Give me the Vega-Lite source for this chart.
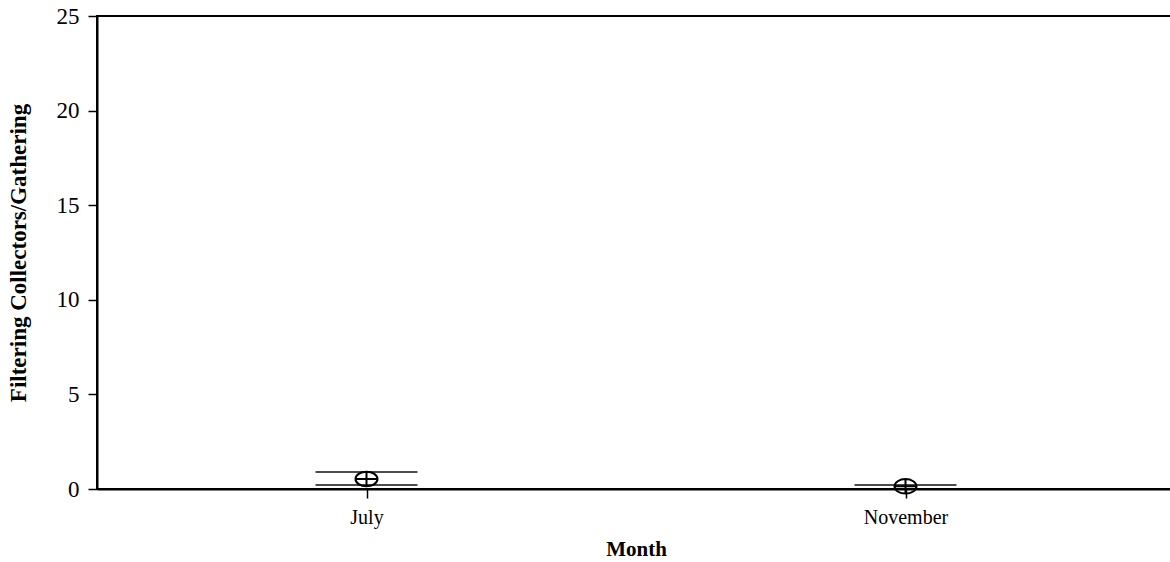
{
  "$schema": "https://vega.github.io/schema/vega-lite/v6.json",
  "autosize": "none",
  "padding": {"left": 97, "top": 16, "right": 0, "bottom": 73},
  "width": 1078,
  "height": 473,
  "background": "white",
  "config": {
    "view": {"stroke": "black", "strokeWidth": 2},
    "font": "Liberation Serif",
    "axis": {
      "grid": false,
      "domainColor": "black",
      "domainWidth": 2,
      "tickColor": "black",
      "tickWidth": 1.5,
      "tickSize": 9,
      "labelColor": "black",
      "titleColor": "black",
      "labelFont": "Liberation Serif",
      "titleFont": "Liberation Serif",
      "titleFontWeight": "bold"
    }
  },
  "data": {
    "values": [
      {"month": "July", "lower": 0.21, "upper": 0.9, "mean": 0.53},
      {"month": "November", "lower": 0.0, "upper": 0.21, "mean": 0.14}
    ]
  },
  "encoding": {
    "x": {
      "field": "month",
      "type": "nominal",
      "scale": {"type": "point", "padding": 0.5},
      "axis": {
        "title": "Month",
        "labelAngle": 0,
        "labelFontSize": 20,
        "labelPadding": 9,
        "titleFontSize": 21,
        "titlePadding": 11
      }
    }
  },
  "layer": [
    {
      "mark": {"type": "tick", "color": "black", "size": 102, "thickness": 2},
      "encoding": {
        "y": {
          "field": "upper",
          "type": "quantitative",
          "scale": {"domain": [0, 25], "nice": false, "zero": true},
          "axis": {
            "title": "Filtering Collectors/Gathering",
            "values": [0, 5, 10, 15, 20, 25],
            "labelFontSize": 23,
            "labelPadding": 9,
            "titleFontSize": 23,
            "titlePadding": 26
          }
        }
      }
    },
    {
      "mark": {"type": "tick", "color": "black", "size": 102, "thickness": 2},
      "encoding": {"y": {"field": "lower", "type": "quantitative"}}
    },
    {
      "mark": {
        "type": "point",
        "shape": "M -1 0 A 1 0.66 0 1 0 1 0 A 1 0.66 0 1 0 -1 0 M 0 -0.66 L 0 0.66 M -1 0 L 1 0",
        "size": 484,
        "filled": false,
        "stroke": "black",
        "strokeWidth": 2,
        "opacity": 1
      },
      "encoding": {"y": {"field": "mean", "type": "quantitative"}}
    }
  ]
}
